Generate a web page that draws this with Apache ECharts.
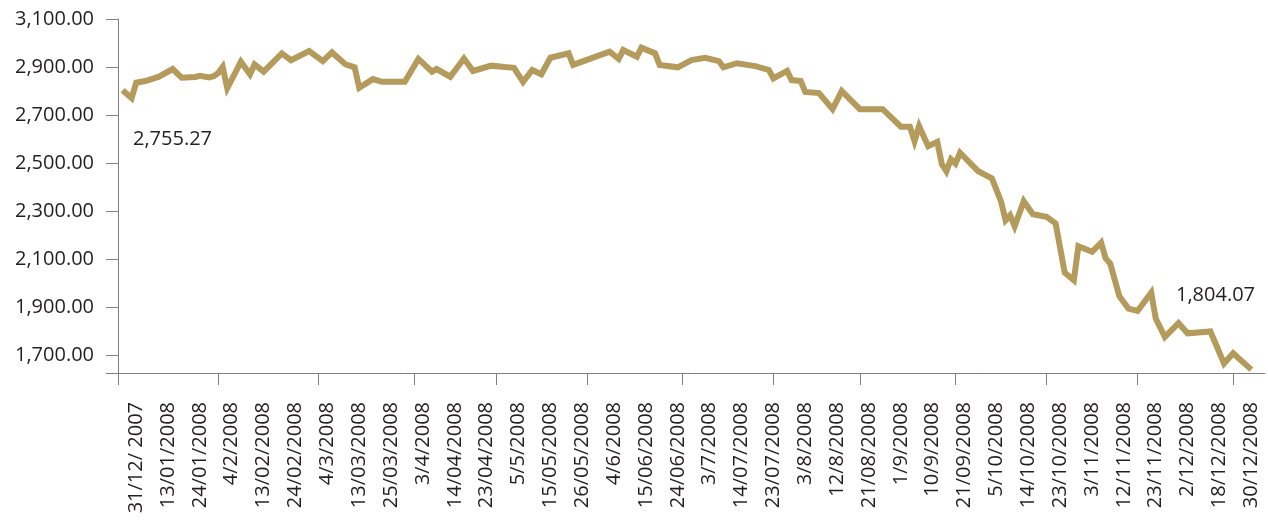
<!DOCTYPE html>
<html>
<head>
<meta charset="utf-8" />
<script src="https://cdn.jsdelivr.net/npm/echarts@6.0.0/dist/echarts.min.js"></script>
<style>
  html, body { margin: 0; padding: 0; background: #fff; }
  #main { width: 1268px; height: 524px; }
</style>
</head>
<body>
<div id="main"></div>
<script>
// date labels shown under the axis, one every 7 trading days
const dateLabels = [
  '31/12/ 2007', '13/01/2008', '24/01/2008', '4/2/2008', '13/02/2008', '24/02/2008',
  '4/3/2008', '13/03/2008', '25/03/2008', '3/4/2008', '14/04/2008', '23/04/2008',
  '5/5/2008', '15/05/2008', '26/05/2008', '4/6/2008', '15/06/2008', '24/06/2008',
  '3/7/2008', '14/07/2008', '23/07/2008', '3/8/2008', '12/8/2008', '21/08/2008',
  '1/9/2008', '10/9/2008', '21/09/2008', '5/10/2008', '14/10/2008', '23/10/2008',
  '3/11/2008', '12/11/2008', '23/11/2008', '2/12/2008', '18/12/2008', '30/12/2008'
];
const labelDays = dateLabels.map((d, k) => 7 * k + 4);

// month boundaries (tick marks on the date axis), in trading-day index
const monthTicks = [0, 22, 44, 65, 83, 103, 124, 144, 163, 184, 204, 224, 245];

// index level
const pointDay = [
  1, 3, 4, 6, 9, 12, 14, 17, 18, 20, 21, 22, 23, 24, 27, 29, 30, 32, 36, 38,
  42, 45, 47, 50, 52, 53, 56, 58, 63, 66, 69, 70, 73, 76, 78, 82, 85, 87, 89, 91,
  93, 95, 99, 100, 108, 110, 111, 114, 115, 118, 119, 123, 126, 129, 132, 133, 136, 140, 143, 144,
  147, 148, 150, 151, 154, 157, 159, 163, 168, 172, 174, 175, 176, 178, 180, 181, 182, 183, 184, 185,
  189, 192, 194, 195, 196, 197, 199, 201, 204, 206, 208, 210, 211, 214, 216, 217, 218, 220, 222, 224,
  227, 228, 230, 233, 235, 240, 243, 245, 249
];
const pointValue = [
  2804, 2771, 2835, 2842, 2860, 2892, 2856, 2859, 2864, 2857, 2862, 2875, 2901, 2812, 2922, 2870, 2911, 2881, 2957, 2929,
  2967, 2925, 2961, 2911, 2899, 2814, 2850, 2839, 2839, 2934, 2881, 2892, 2860, 2936, 2884, 2906, 2900, 2897, 2839, 2888,
  2870, 2939, 2957, 2909, 2964, 2934, 2971, 2943, 2981, 2957, 2909, 2899, 2929, 2939, 2925, 2899, 2916, 2904, 2888, 2853,
  2884, 2846, 2842, 2797, 2792, 2725, 2800, 2725, 2725, 2652, 2652, 2592, 2655, 2571, 2589, 2497, 2467, 2517, 2499, 2544,
  2467, 2437, 2342, 2263, 2284, 2238, 2342, 2288, 2277, 2250, 2045, 2014, 2155, 2132, 2170, 2104, 2083, 1947, 1896, 1886,
  1962, 1854, 1778, 1835, 1793, 1801, 1668, 1710, 1642
];

const yMin = 1628;
const yMax = 3100;
const yLabels = [1700, 1900, 2100, 2300, 2500, 2700, 2900, 3100];

const notes = [
  { text: '2,755.27', left: 133, top: 129 },
  { text: '1,804.07', left: 1176, top: 285 }
];

const font = '"Open Sans", "Noto Sans", sans-serif';
const ink = '#231f20';
const axisGrey = '#7f7f7f';
const lineColor = '#b49a5b';

function fmt(v) {
  return v.toFixed(2).replace(/\B(?=(\d{3})+(?!\d))/g, ',');
}

var myChart = echarts.init(document.getElementById('main'));

var option = {
  animation: false,
  grid: { left: 118, right: 3, top: 19, bottom: 151, outerBoundsMode: 'none' },
  xAxis: {
    type: 'value',
    min: 0,
    max: 252,
    splitLine: { show: false },
    axisLine: { lineStyle: { color: axisGrey, width: 1 } },
    axisTick: { show: true, length: 12, customValues: monthTicks, lineStyle: { color: axisGrey } },
    axisLabel: {
      customValues: labelDays,
      rotate: 90,
      margin: 29,
      fontSize: 20,
      fontFamily: font,
      color: ink,
      formatter: v => dateLabels[labelDays.indexOf(v)] || ''
    }
  },
  yAxis: {
    type: 'value',
    min: yMin,
    max: yMax,
    splitLine: { show: false },
    axisLine: { show: true, lineStyle: { color: axisGrey, width: 1 } },
    axisTick: { show: true, length: 12, customValues: [yMin].concat(yLabels), lineStyle: { color: axisGrey } },
    axisLabel: {
      customValues: yLabels,
      margin: 24,
      fontSize: 20,
      fontFamily: font,
      color: ink,
      formatter: v => fmt(v)
    }
  },
  series: [
    {
      type: 'line',
      data: pointDay.map((d, i) => [d, pointValue[i]]),
      showSymbol: false,
      lineStyle: { color: lineColor, width: 6, join: 'miter', miterLimit: 10 }
    }
  ],
  graphic: notes.map(n => ({
    type: 'text',
    left: n.left,
    top: n.top,
    style: { text: n.text, font: '20px ' + font, fill: ink }
  }))
};

myChart.setOption(option);
</script>
</body>
</html>
